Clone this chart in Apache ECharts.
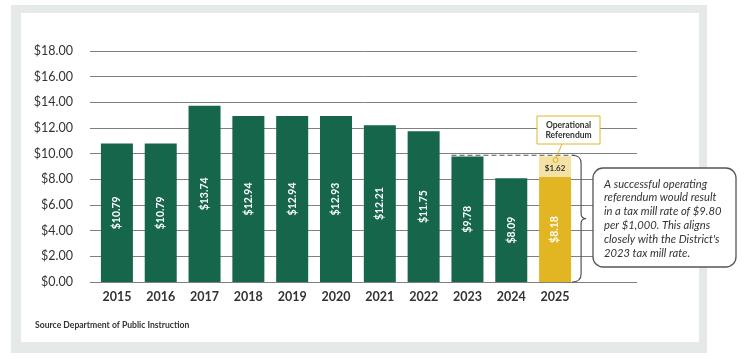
<!DOCTYPE html>
<html>
<head>
<meta charset="utf-8">
<style>
html,body{margin:0;padding:0;background:#fff;}
#chart{width:747px;height:359px;}
</style>
<script src="https://cdn.jsdelivr.net/npm/echarts@6/dist/echarts.min.js"></script>
</head>
<body>
<div id="chart"></div>
<script>
// ---- data ----
const years = ['2015','2016','2017','2018','2019','2020','2021','2022','2023','2024','2025'];
const millRates = [10.79, 10.79, 13.74, 12.94, 12.94, 12.93, 12.21, 11.75, 9.78, 8.09, 8.18];
const referendum = [null, null, null, null, null, null, null, null, null, null, 1.62];
const yTicks = [0, 2, 4, 6, 8, 10, 12, 14, 16, 18];
const targetRate = 9.80;       // 8.18 + 1.62
const compareFrom = '2023';
const compareTo = '2025';
const calloutTitle = 'Operational\nReferendum';
const noteText = 'A successful operating\nreferendum would result\nin a tax mill rate of $9.80\nper $1,000. This aligns\nclosely with the District\'s\n2023 tax mill rate.';
const sourceText = 'Source Department of Public Instruction';

const GREEN = '#15664a', YELLOW = '#e2b522', LIGHTY = '#f4e1a6';
const FONT = 'Lato, "Open Sans", sans-serif';
const BARW = 32;

const chart = echarts.init(document.getElementById('chart'), null, {renderer: 'canvas'});

const baseData = millRates.map((v, i) => ({
  value: v,
  itemStyle: {color: i === years.length - 1 ? YELLOW : GREEN}
}));

const option = {
  animation: false,
  backgroundColor: '#fff',
  grid: [
    {left: 90, right: 110, top: 51, bottom: 77},
    {left: 95, right: 170, top: 51, bottom: 77}
  ],
  xAxis: [
    {gridIndex: 0, type: 'value', min: 0, max: 1, show: false},
    {gridIndex: 1, type: 'category', data: years,
     axisLine: {show: false}, axisTick: {show: false},
     axisLabel: {color: '#333', fontFamily: FONT, fontWeight: 'bold', fontSize: 12.5, margin: 8}}
  ],
  yAxis: [
    {gridIndex: 0, type: 'value', min: yTicks[0], max: yTicks[yTicks.length - 1], interval: 2,
     axisLine: {show: false}, axisTick: {show: false},
     splitLine: {lineStyle: {color: '#7f7f7f', width: 1}},
     axisLabel: {color: '#333', fontFamily: FONT, fontSize: 12.5, margin: 17,
       formatter: v => '$' + v.toFixed(2)}},
    {gridIndex: 1, type: 'value', min: yTicks[0], max: yTicks[yTicks.length - 1], interval: 2,
     show: false}
  ],
  graphic: [
    {type: 'rect', z: -10, silent: true, shape: {x: 11, y: 5, width: 696, height: 348}, style: {fill: '#e5e9e7'}},
    {type: 'rect', z: -9, silent: true, shape: {x: 21, y: 13, width: 678, height: 329}, style: {fill: '#ffffff'}},
    {type: 'text', left: 35, top: 321, style: {text: sourceText, fill: '#333', font: 'bold 8.6px ' + FONT}},
    // callout "Operational Referendum"
    {type: 'line', z: 20, shape: {x1: 562, y1: 144, x2: 556, y2: 158}, style: {stroke: YELLOW, lineWidth: 1}},
    {type: 'circle', z: 20, shape: {cx: 555.5, cy: 160, r: 2.5}, style: {fill: 'none', stroke: YELLOW, lineWidth: 1}},
    {type: 'rect', z: 20, shape: {x: 537, y: 116, width: 63, height: 28}, style: {fill: '#fff', stroke: YELLOW, lineWidth: 1}},
    {type: 'text', z: 21, style: {x: 568.5, y: 130, text: calloutTitle, align: 'center', verticalAlign: 'middle',
      fill: '#333', font: 'bold 8.5px ' + FONT, lineHeight: 10}},
    // note box
    {type: 'rect', z: 20, shape: {x: 593, y: 168, width: 143, height: 99, r: 10},
     style: {fill: '#fff', stroke: '#555', lineWidth: 1.3}},
    {type: 'text', z: 21, style: {x: 604, y: 177, text: noteText, fill: '#333',
      font: 'italic 11.2px ' + FONT, lineHeight: 13.8}}
  ],
  series: [
    {type: 'bar', xAxisIndex: 1, yAxisIndex: 1, stack: 'r', barWidth: BARW, data: baseData,
     label: {show: true, position: 'inside', rotate: 90, color: '#fff', fontFamily: FONT,
       fontWeight: 'bold', fontSize: 10.5, formatter: p => '$' + p.value.toFixed(2)}},
    {type: 'bar', xAxisIndex: 1, yAxisIndex: 1, stack: 'r', barWidth: BARW, data: referendum,
     itemStyle: {color: LIGHTY},
     label: {show: true, position: 'inside', color: '#333', fontFamily: FONT, fontWeight: 'bold', fontSize: 8,
       offset: [0, 2], formatter: p => p.value == null ? '' : '$' + p.value.toFixed(2)}},
    {type: 'custom', xAxisIndex: 1, yAxisIndex: 1, z: 10,
     data: [[years.indexOf(compareFrom), years.indexOf(compareTo), targetRate]],
     renderItem: function (params, api) {
       const a = api.coord([api.value(0), api.value(2)]);
       const b = api.coord([api.value(1), api.value(2)]);
       const zero = api.coord([api.value(1), 0]);
       const half = BARW / 2;
       const x1 = a[0] - half, x2 = b[0] + half + 4;
       const yT = b[1] - 1, yB = zero[1], yM = (yT + yB) / 2;
       const bx = x2 + 6, px = x2 + 11;
       const brace = 'M' + (x2 - 3) + ' ' + yT +
         ' Q' + bx + ' ' + yT + ' ' + bx + ' ' + (yT + 8) +
         ' L' + bx + ' ' + (yM - 5) +
         ' Q' + bx + ' ' + yM + ' ' + px + ' ' + yM +
         ' Q' + bx + ' ' + yM + ' ' + bx + ' ' + (yM + 5) +
         ' L' + bx + ' ' + (yB - 8) +
         ' Q' + bx + ' ' + yB + ' ' + (x2 - 3) + ' ' + yB;
       return {type: 'group', children: [
         {type: 'line', shape: {x1: x1, y1: yT, x2: x2, y2: yT},
          style: {stroke: '#555', lineWidth: 1.2, lineDash: [5, 3]}},
         {type: 'path', shape: {pathData: brace}, style: {fill: 'none', stroke: '#555', lineWidth: 1.2}}
       ]};
     }}
  ]
};
chart.setOption(option);
</script>
</body>
</html>
